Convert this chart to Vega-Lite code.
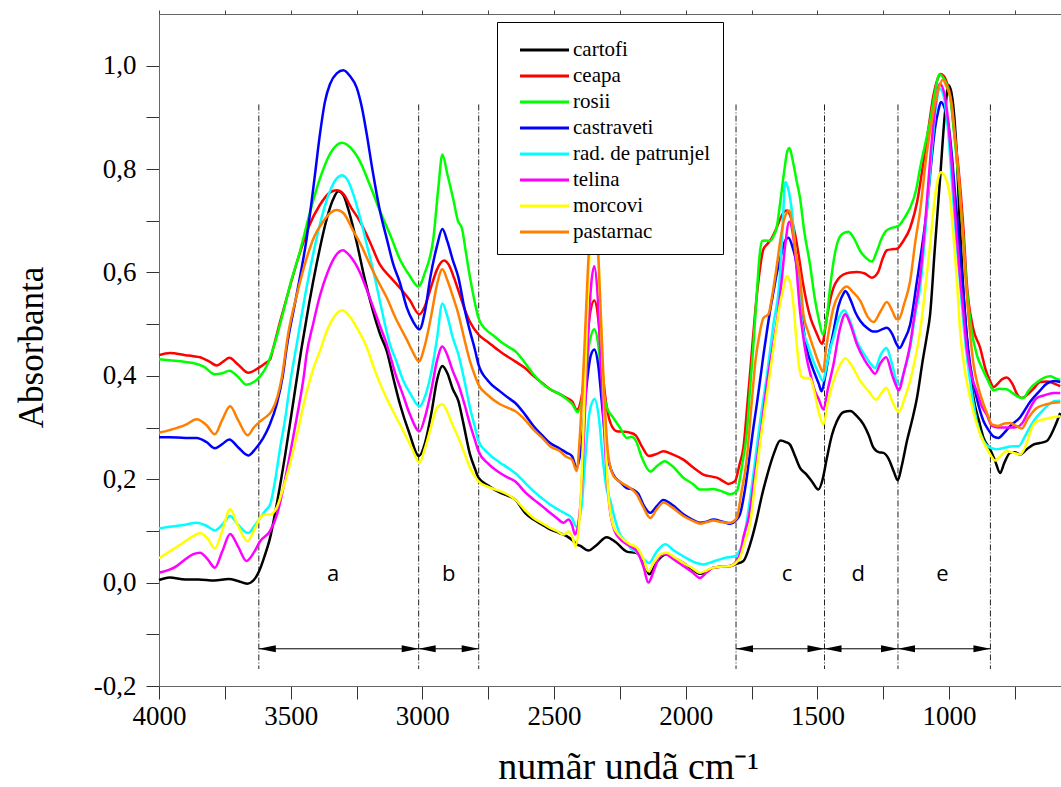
{
"$schema":"https://vega.github.io/schema/vega-lite/v6.json",
"width":902,"height":672,
"autosize":{"type":"none"},
"padding":{"left":159,"top":14,"right":0,"bottom":101},
"background":"white",
"config":{"view":{"stroke":"#666","strokeWidth":1},"font":"Liberation Serif",
"axis":{"grid":false,"labelFont":"Liberation Serif","titleFont":"Liberation Serif","labelColor":"#000","titleColor":"#000","titleFontWeight":"normal","domainColor":"#666","tickColor":"#333"}},
"datasets":{
"dividers":[{"wn":3621},{"wn":3014},{"wn":2786},{"wn":1809},{"wn":1473},{"wn":1194},{"wn":843}],
"arrows":[{"from":3621,"to":3014},{"from":3014,"to":2786},{"from":1809,"to":1473},{"from":1473,"to":1194},{"from":1194,"to":843}],
"letters":[{"lab":"a","wn":3339},{"lab":"b","wn":2900},{"lab":"c","wn":1615},{"lab":"d","wn":1345},{"lab":"e","wn":1025}],
"spectra":[
{"s":"cartofi","w":4000,"a":0.005},{"s":"cartofi","w":3960,"a":0.010},{"s":"cartofi","w":3900,"a":0.006},{"s":"cartofi","w":3850,"a":0.006},{"s":"cartofi","w":3790,"a":0.004},{"s":"cartofi","w":3735,"a":0.007},{"s":"cartofi","w":3700,"a":0.003},{"s":"cartofi","w":3665,"a":-0.002},{"s":"cartofi","w":3640,"a":0.005},{"s":"cartofi","w":3620,"a":0.022},{"s":"cartofi","w":3600,"a":0.050},{"s":"cartofi","w":3578,"a":0.087},{"s":"cartofi","w":3550,"a":0.160},{"s":"cartofi","w":3520,"a":0.250},{"s":"cartofi","w":3490,"a":0.350},{"s":"cartofi","w":3460,"a":0.450},{"s":"cartofi","w":3430,"a":0.540},{"s":"cartofi","w":3400,"a":0.620},{"s":"cartofi","w":3370,"a":0.690},{"s":"cartofi","w":3340,"a":0.740},{"s":"cartofi","w":3319,"a":0.757},{"s":"cartofi","w":3300,"a":0.750},{"s":"cartofi","w":3280,"a":0.720},{"s":"cartofi","w":3250,"a":0.660},{"s":"cartofi","w":3220,"a":0.590},{"s":"cartofi","w":3190,"a":0.530},{"s":"cartofi","w":3160,"a":0.480},{"s":"cartofi","w":3135,"a":0.448},{"s":"cartofi","w":3110,"a":0.395},{"s":"cartofi","w":3085,"a":0.345},{"s":"cartofi","w":3050,"a":0.290},{"s":"cartofi","w":3013,"a":0.245},{"s":"cartofi","w":2990,"a":0.270},{"s":"cartofi","w":2965,"a":0.330},{"s":"cartofi","w":2945,"a":0.390},{"s":"cartofi","w":2924,"a":0.419},{"s":"cartofi","w":2905,"a":0.405},{"s":"cartofi","w":2885,"a":0.375},{"s":"cartofi","w":2863,"a":0.351},{"s":"cartofi","w":2845,"a":0.310},{"s":"cartofi","w":2819,"a":0.248},{"s":"cartofi","w":2800,"a":0.220},{"s":"cartofi","w":2787,"a":0.203},{"s":"cartofi","w":2750,"a":0.188},{"s":"cartofi","w":2705,"a":0.174},{"s":"cartofi","w":2675,"a":0.168},{"s":"cartofi","w":2648,"a":0.161},{"s":"cartofi","w":2610,"a":0.135},{"s":"cartofi","w":2578,"a":0.122},{"s":"cartofi","w":2545,"a":0.112},{"s":"cartofi","w":2515,"a":0.103},{"s":"cartofi","w":2480,"a":0.096},{"s":"cartofi","w":2452,"a":0.090},{"s":"cartofi","w":2430,"a":0.082},{"s":"cartofi","w":2414,"a":0.074},{"s":"cartofi","w":2400,"a":0.071},{"s":"cartofi","w":2370,"a":0.062},{"s":"cartofi","w":2340,"a":0.072},{"s":"cartofi","w":2300,"a":0.088},{"s":"cartofi","w":2265,"a":0.078},{"s":"cartofi","w":2224,"a":0.060},{"s":"cartofi","w":2186,"a":0.057},{"s":"cartofi","w":2160,"a":0.040},{"s":"cartofi","w":2138,"a":0.016},{"s":"cartofi","w":2110,"a":0.040},{"s":"cartofi","w":2073,"a":0.055},{"s":"cartofi","w":2040,"a":0.047},{"s":"cartofi","w":2009,"a":0.038},{"s":"cartofi","w":1975,"a":0.026},{"s":"cartofi","w":1946,"a":0.017},{"s":"cartofi","w":1920,"a":0.022},{"s":"cartofi","w":1895,"a":0.029},{"s":"cartofi","w":1860,"a":0.031},{"s":"cartofi","w":1831,"a":0.032},{"s":"cartofi","w":1810,"a":0.036},{"s":"cartofi","w":1781,"a":0.042},{"s":"cartofi","w":1755,"a":0.075},{"s":"cartofi","w":1732,"a":0.119},{"s":"cartofi","w":1710,"a":0.170},{"s":"cartofi","w":1690,"a":0.209},{"s":"cartofi","w":1665,"a":0.250},{"s":"cartofi","w":1641,"a":0.275},{"s":"cartofi","w":1620,"a":0.272},{"s":"cartofi","w":1604,"a":0.267},{"s":"cartofi","w":1585,"a":0.245},{"s":"cartofi","w":1566,"a":0.222},{"s":"cartofi","w":1541,"a":0.209},{"s":"cartofi","w":1520,"a":0.195},{"s":"cartofi","w":1496,"a":0.180},{"s":"cartofi","w":1480,"a":0.200},{"s":"cartofi","w":1464,"a":0.241},{"s":"cartofi","w":1445,"a":0.285},{"s":"cartofi","w":1426,"a":0.312},{"s":"cartofi","w":1400,"a":0.330},{"s":"cartofi","w":1375,"a":0.332},{"s":"cartofi","w":1350,"a":0.322},{"s":"cartofi","w":1325,"a":0.306},{"s":"cartofi","w":1305,"a":0.285},{"s":"cartofi","w":1287,"a":0.261},{"s":"cartofi","w":1265,"a":0.252},{"s":"cartofi","w":1249,"a":0.251},{"s":"cartofi","w":1230,"a":0.240},{"s":"cartofi","w":1210,"a":0.215},{"s":"cartofi","w":1195,"a":0.198},{"s":"cartofi","w":1180,"a":0.225},{"s":"cartofi","w":1160,"a":0.274},{"s":"cartofi","w":1140,"a":0.315},{"s":"cartofi","w":1122,"a":0.357},{"s":"cartofi","w":1100,"a":0.430},{"s":"cartofi","w":1085,"a":0.475},{"s":"cartofi","w":1072,"a":0.519},{"s":"cartofi","w":1055,"a":0.640},{"s":"cartofi","w":1034,"a":0.783},{"s":"cartofi","w":1015,"a":0.912},{"s":"cartofi","w":1002,"a":0.962},{"s":"cartofi","w":990,"a":0.945},{"s":"cartofi","w":980,"a":0.900},{"s":"cartofi","w":970,"a":0.820},{"s":"cartofi","w":960,"a":0.700},{"s":"cartofi","w":945,"a":0.557},{"s":"cartofi","w":925,"a":0.430},{"s":"cartofi","w":907,"a":0.357},{"s":"cartofi","w":885,"a":0.310},{"s":"cartofi","w":869,"a":0.280},{"s":"cartofi","w":844,"a":0.258},{"s":"cartofi","w":825,"a":0.235},{"s":"cartofi","w":806,"a":0.212},{"s":"cartofi","w":790,"a":0.232},{"s":"cartofi","w":768,"a":0.251},{"s":"cartofi","w":750,"a":0.252},{"s":"cartofi","w":730,"a":0.248},{"s":"cartofi","w":705,"a":0.258},{"s":"cartofi","w":680,"a":0.267},{"s":"cartofi","w":655,"a":0.270},{"s":"cartofi","w":629,"a":0.274},{"s":"cartofi","w":600,"a":0.300},{"s":"cartofi","w":578,"a":0.328},
{"s":"ceapa","w":4000,"a":0.440},{"s":"ceapa","w":3958,"a":0.444},{"s":"ceapa","w":3900,"a":0.440},{"s":"ceapa","w":3870,"a":0.438},{"s":"ceapa","w":3844,"a":0.436},{"s":"ceapa","w":3810,"a":0.428},{"s":"ceapa","w":3781,"a":0.420},{"s":"ceapa","w":3755,"a":0.428},{"s":"ceapa","w":3733,"a":0.435},{"s":"ceapa","w":3700,"a":0.422},{"s":"ceapa","w":3661,"a":0.406},{"s":"ceapa","w":3623,"a":0.415},{"s":"ceapa","w":3595,"a":0.425},{"s":"ceapa","w":3578,"a":0.432},{"s":"ceapa","w":3566,"a":0.454},{"s":"ceapa","w":3540,"a":0.505},{"s":"ceapa","w":3515,"a":0.551},{"s":"ceapa","w":3470,"a":0.630},{"s":"ceapa","w":3430,"a":0.690},{"s":"ceapa","w":3390,"a":0.730},{"s":"ceapa","w":3350,"a":0.755},{"s":"ceapa","w":3325,"a":0.759},{"s":"ceapa","w":3300,"a":0.752},{"s":"ceapa","w":3270,"a":0.725},{"s":"ceapa","w":3237,"a":0.699},{"s":"ceapa","w":3200,"a":0.660},{"s":"ceapa","w":3161,"a":0.615},{"s":"ceapa","w":3120,"a":0.590},{"s":"ceapa","w":3085,"a":0.570},{"s":"ceapa","w":3050,"a":0.548},{"s":"ceapa","w":3011,"a":0.519},{"s":"ceapa","w":2990,"a":0.535},{"s":"ceapa","w":2965,"a":0.575},{"s":"ceapa","w":2945,"a":0.605},{"s":"ceapa","w":2918,"a":0.623},{"s":"ceapa","w":2900,"a":0.615},{"s":"ceapa","w":2880,"a":0.590},{"s":"ceapa","w":2860,"a":0.560},{"s":"ceapa","w":2840,"a":0.530},{"s":"ceapa","w":2820,"a":0.505},{"s":"ceapa","w":2787,"a":0.480},{"s":"ceapa","w":2750,"a":0.465},{"s":"ceapa","w":2705,"a":0.447},{"s":"ceapa","w":2648,"a":0.428},{"s":"ceapa","w":2610,"a":0.415},{"s":"ceapa","w":2578,"a":0.400},{"s":"ceapa","w":2545,"a":0.386},{"s":"ceapa","w":2515,"a":0.374},{"s":"ceapa","w":2480,"a":0.365},{"s":"ceapa","w":2452,"a":0.357},{"s":"ceapa","w":2430,"a":0.350},{"s":"ceapa","w":2414,"a":0.334},{"s":"ceapa","w":2395,"a":0.360},{"s":"ceapa","w":2380,"a":0.430},{"s":"ceapa","w":2365,"a":0.515},{"s":"ceapa","w":2347,"a":0.546},{"s":"ceapa","w":2332,"a":0.510},{"s":"ceapa","w":2318,"a":0.420},{"s":"ceapa","w":2300,"a":0.340},{"s":"ceapa","w":2280,"a":0.302},{"s":"ceapa","w":2262,"a":0.293},{"s":"ceapa","w":2235,"a":0.292},{"s":"ceapa","w":2211,"a":0.290},{"s":"ceapa","w":2190,"a":0.285},{"s":"ceapa","w":2165,"a":0.262},{"s":"ceapa","w":2140,"a":0.245},{"s":"ceapa","w":2110,"a":0.249},{"s":"ceapa","w":2085,"a":0.254},{"s":"ceapa","w":2050,"a":0.248},{"s":"ceapa","w":2009,"a":0.238},{"s":"ceapa","w":1970,"a":0.222},{"s":"ceapa","w":1933,"a":0.209},{"s":"ceapa","w":1900,"a":0.205},{"s":"ceapa","w":1882,"a":0.203},{"s":"ceapa","w":1860,"a":0.197},{"s":"ceapa","w":1838,"a":0.191},{"s":"ceapa","w":1813,"a":0.196},{"s":"ceapa","w":1795,"a":0.230},{"s":"ceapa","w":1781,"a":0.261},{"s":"ceapa","w":1765,"a":0.350},{"s":"ceapa","w":1750,"a":0.440},{"s":"ceapa","w":1735,"a":0.530},{"s":"ceapa","w":1720,"a":0.600},{"s":"ceapa","w":1705,"a":0.645},{"s":"ceapa","w":1690,"a":0.655},{"s":"ceapa","w":1675,"a":0.665},{"s":"ceapa","w":1660,"a":0.680},{"s":"ceapa","w":1640,"a":0.705},{"s":"ceapa","w":1625,"a":0.718},{"s":"ceapa","w":1614,"a":0.720},{"s":"ceapa","w":1600,"a":0.705},{"s":"ceapa","w":1585,"a":0.675},{"s":"ceapa","w":1570,"a":0.630},{"s":"ceapa","w":1555,"a":0.580},{"s":"ceapa","w":1540,"a":0.540},{"s":"ceapa","w":1525,"a":0.510},{"s":"ceapa","w":1505,"a":0.485},{"s":"ceapa","w":1482,"a":0.462},{"s":"ceapa","w":1465,"a":0.510},{"s":"ceapa","w":1450,"a":0.550},{"s":"ceapa","w":1439,"a":0.570},{"s":"ceapa","w":1420,"a":0.588},{"s":"ceapa","w":1401,"a":0.596},{"s":"ceapa","w":1375,"a":0.600},{"s":"ceapa","w":1350,"a":0.601},{"s":"ceapa","w":1320,"a":0.598},{"s":"ceapa","w":1293,"a":0.590},{"s":"ceapa","w":1270,"a":0.600},{"s":"ceapa","w":1250,"a":0.630},{"s":"ceapa","w":1236,"a":0.643},{"s":"ceapa","w":1215,"a":0.645},{"s":"ceapa","w":1198,"a":0.646},{"s":"ceapa","w":1175,"a":0.660},{"s":"ceapa","w":1148,"a":0.686},{"s":"ceapa","w":1120,"a":0.740},{"s":"ceapa","w":1097,"a":0.815},{"s":"ceapa","w":1075,"a":0.890},{"s":"ceapa","w":1059,"a":0.944},{"s":"ceapa","w":1045,"a":0.972},{"s":"ceapa","w":1034,"a":0.984},{"s":"ceapa","w":1020,"a":0.980},{"s":"ceapa","w":1005,"a":0.962},{"s":"ceapa","w":996,"a":0.945},{"s":"ceapa","w":980,"a":0.870},{"s":"ceapa","w":964,"a":0.800},{"s":"ceapa","w":945,"a":0.680},{"s":"ceapa","w":933,"a":0.580},{"s":"ceapa","w":910,"a":0.495},{"s":"ceapa","w":882,"a":0.454},{"s":"ceapa","w":860,"a":0.410},{"s":"ceapa","w":844,"a":0.390},{"s":"ceapa","w":832,"a":0.378},{"s":"ceapa","w":815,"a":0.385},{"s":"ceapa","w":800,"a":0.393},{"s":"ceapa","w":781,"a":0.397},{"s":"ceapa","w":760,"a":0.385},{"s":"ceapa","w":740,"a":0.363},{"s":"ceapa","w":724,"a":0.357},{"s":"ceapa","w":700,"a":0.365},{"s":"ceapa","w":680,"a":0.375},{"s":"ceapa","w":654,"a":0.388},{"s":"ceapa","w":630,"a":0.389},{"s":"ceapa","w":605,"a":0.386},{"s":"ceapa","w":578,"a":0.380},
{"s":"rosii","w":4000,"a":0.432},{"s":"rosii","w":3960,"a":0.430},{"s":"rosii","w":3900,"a":0.427},{"s":"rosii","w":3870,"a":0.425},{"s":"rosii","w":3830,"a":0.418},{"s":"rosii","w":3788,"a":0.403},{"s":"rosii","w":3760,"a":0.405},{"s":"rosii","w":3733,"a":0.410},{"s":"rosii","w":3700,"a":0.398},{"s":"rosii","w":3668,"a":0.383},{"s":"rosii","w":3640,"a":0.388},{"s":"rosii","w":3616,"a":0.399},{"s":"rosii","w":3590,"a":0.420},{"s":"rosii","w":3565,"a":0.455},{"s":"rosii","w":3530,"a":0.520},{"s":"rosii","w":3500,"a":0.580},{"s":"rosii","w":3465,"a":0.640},{"s":"rosii","w":3430,"a":0.710},{"s":"rosii","w":3390,"a":0.780},{"s":"rosii","w":3350,"a":0.830},{"s":"rosii","w":3306,"a":0.851},{"s":"rosii","w":3270,"a":0.840},{"s":"rosii","w":3237,"a":0.815},{"s":"rosii","w":3200,"a":0.770},{"s":"rosii","w":3161,"a":0.719},{"s":"rosii","w":3120,"a":0.670},{"s":"rosii","w":3085,"a":0.625},{"s":"rosii","w":3050,"a":0.595},{"s":"rosii","w":3015,"a":0.573},{"s":"rosii","w":2990,"a":0.600},{"s":"rosii","w":2958,"a":0.667},{"s":"rosii","w":2940,"a":0.760},{"s":"rosii","w":2924,"a":0.828},{"s":"rosii","w":2905,"a":0.790},{"s":"rosii","w":2882,"a":0.740},{"s":"rosii","w":2865,"a":0.700},{"s":"rosii","w":2850,"a":0.686},{"s":"rosii","w":2835,"a":0.640},{"s":"rosii","w":2819,"a":0.590},{"s":"rosii","w":2800,"a":0.540},{"s":"rosii","w":2787,"a":0.512},{"s":"rosii","w":2760,"a":0.490},{"s":"rosii","w":2730,"a":0.478},{"s":"rosii","w":2705,"a":0.467},{"s":"rosii","w":2670,"a":0.455},{"s":"rosii","w":2648,"a":0.448},{"s":"rosii","w":2610,"a":0.425},{"s":"rosii","w":2578,"a":0.403},{"s":"rosii","w":2545,"a":0.385},{"s":"rosii","w":2515,"a":0.374},{"s":"rosii","w":2480,"a":0.365},{"s":"rosii","w":2452,"a":0.355},{"s":"rosii","w":2430,"a":0.345},{"s":"rosii","w":2411,"a":0.330},{"s":"rosii","w":2395,"a":0.350},{"s":"rosii","w":2380,"a":0.400},{"s":"rosii","w":2365,"a":0.465},{"s":"rosii","w":2347,"a":0.490},{"s":"rosii","w":2332,"a":0.460},{"s":"rosii","w":2318,"a":0.390},{"s":"rosii","w":2300,"a":0.340},{"s":"rosii","w":2275,"a":0.319},{"s":"rosii","w":2250,"a":0.300},{"s":"rosii","w":2224,"a":0.280},{"s":"rosii","w":2205,"a":0.282},{"s":"rosii","w":2190,"a":0.275},{"s":"rosii","w":2165,"a":0.240},{"s":"rosii","w":2135,"a":0.215},{"s":"rosii","w":2110,"a":0.225},{"s":"rosii","w":2080,"a":0.235},{"s":"rosii","w":2050,"a":0.225},{"s":"rosii","w":2009,"a":0.203},{"s":"rosii","w":1970,"a":0.190},{"s":"rosii","w":1946,"a":0.180},{"s":"rosii","w":1920,"a":0.180},{"s":"rosii","w":1895,"a":0.181},{"s":"rosii","w":1860,"a":0.176},{"s":"rosii","w":1831,"a":0.171},{"s":"rosii","w":1806,"a":0.177},{"s":"rosii","w":1785,"a":0.230},{"s":"rosii","w":1768,"a":0.290},{"s":"rosii","w":1755,"a":0.380},{"s":"rosii","w":1743,"a":0.460},{"s":"rosii","w":1730,"a":0.560},{"s":"rosii","w":1720,"a":0.630},{"s":"rosii","w":1711,"a":0.661},{"s":"rosii","w":1695,"a":0.662},{"s":"rosii","w":1680,"a":0.661},{"s":"rosii","w":1665,"a":0.672},{"s":"rosii","w":1655,"a":0.686},{"s":"rosii","w":1640,"a":0.740},{"s":"rosii","w":1625,"a":0.800},{"s":"rosii","w":1614,"a":0.835},{"s":"rosii","w":1606,"a":0.841},{"s":"rosii","w":1595,"a":0.820},{"s":"rosii","w":1580,"a":0.780},{"s":"rosii","w":1566,"a":0.744},{"s":"rosii","w":1550,"a":0.680},{"s":"rosii","w":1528,"a":0.615},{"s":"rosii","w":1510,"a":0.550},{"s":"rosii","w":1495,"a":0.510},{"s":"rosii","w":1479,"a":0.480},{"s":"rosii","w":1465,"a":0.510},{"s":"rosii","w":1452,"a":0.570},{"s":"rosii","w":1439,"a":0.620},{"s":"rosii","w":1426,"a":0.654},{"s":"rosii","w":1405,"a":0.675},{"s":"rosii","w":1382,"a":0.679},{"s":"rosii","w":1360,"a":0.665},{"s":"rosii","w":1337,"a":0.641},{"s":"rosii","w":1315,"a":0.628},{"s":"rosii","w":1293,"a":0.621},{"s":"rosii","w":1275,"a":0.640},{"s":"rosii","w":1255,"a":0.667},{"s":"rosii","w":1240,"a":0.680},{"s":"rosii","w":1224,"a":0.685},{"s":"rosii","w":1205,"a":0.688},{"s":"rosii","w":1192,"a":0.690},{"s":"rosii","w":1170,"a":0.705},{"s":"rosii","w":1148,"a":0.725},{"s":"rosii","w":1125,"a":0.760},{"s":"rosii","w":1110,"a":0.802},{"s":"rosii","w":1090,"a":0.850},{"s":"rosii","w":1072,"a":0.893},{"s":"rosii","w":1055,"a":0.945},{"s":"rosii","w":1036,"a":0.983},{"s":"rosii","w":1020,"a":0.975},{"s":"rosii","w":1005,"a":0.958},{"s":"rosii","w":996,"a":0.940},{"s":"rosii","w":980,"a":0.865},{"s":"rosii","w":964,"a":0.780},{"s":"rosii","w":945,"a":0.660},{"s":"rosii","w":933,"a":0.570},{"s":"rosii","w":915,"a":0.490},{"s":"rosii","w":895,"a":0.441},{"s":"rosii","w":875,"a":0.415},{"s":"rosii","w":857,"a":0.396},{"s":"rosii","w":840,"a":0.378},{"s":"rosii","w":832,"a":0.372},{"s":"rosii","w":810,"a":0.375},{"s":"rosii","w":782,"a":0.374},{"s":"rosii","w":760,"a":0.367},{"s":"rosii","w":740,"a":0.360},{"s":"rosii","w":718,"a":0.357},{"s":"rosii","w":700,"a":0.370},{"s":"rosii","w":680,"a":0.382},{"s":"rosii","w":667,"a":0.387},{"s":"rosii","w":640,"a":0.396},{"s":"rosii","w":616,"a":0.399},{"s":"rosii","w":595,"a":0.395},{"s":"rosii","w":578,"a":0.392},
{"s":"castraveti","w":4000,"a":0.281},{"s":"castraveti","w":3960,"a":0.281},{"s":"castraveti","w":3900,"a":0.280},{"s":"castraveti","w":3857,"a":0.280},{"s":"castraveti","w":3820,"a":0.272},{"s":"castraveti","w":3788,"a":0.260},{"s":"castraveti","w":3760,"a":0.268},{"s":"castraveti","w":3733,"a":0.277},{"s":"castraveti","w":3700,"a":0.262},{"s":"castraveti","w":3661,"a":0.246},{"s":"castraveti","w":3635,"a":0.258},{"s":"castraveti","w":3604,"a":0.280},{"s":"castraveti","w":3580,"a":0.305},{"s":"castraveti","w":3553,"a":0.345},{"s":"castraveti","w":3530,"a":0.400},{"s":"castraveti","w":3515,"a":0.455},{"s":"castraveti","w":3480,"a":0.550},{"s":"castraveti","w":3439,"a":0.667},{"s":"castraveti","w":3410,"a":0.780},{"s":"castraveti","w":3389,"a":0.867},{"s":"castraveti","w":3370,"a":0.930},{"s":"castraveti","w":3351,"a":0.964},{"s":"castraveti","w":3325,"a":0.985},{"s":"castraveti","w":3300,"a":0.991},{"s":"castraveti","w":3275,"a":0.980},{"s":"castraveti","w":3249,"a":0.957},{"s":"castraveti","w":3230,"a":0.920},{"s":"castraveti","w":3211,"a":0.867},{"s":"castraveti","w":3190,"a":0.800},{"s":"castraveti","w":3161,"a":0.719},{"s":"castraveti","w":3135,"a":0.665},{"s":"castraveti","w":3110,"a":0.615},{"s":"castraveti","w":3085,"a":0.580},{"s":"castraveti","w":3059,"a":0.532},{"s":"castraveti","w":3035,"a":0.505},{"s":"castraveti","w":3011,"a":0.490},{"s":"castraveti","w":2990,"a":0.525},{"s":"castraveti","w":2970,"a":0.590},{"s":"castraveti","w":2945,"a":0.650},{"s":"castraveti","w":2924,"a":0.684},{"s":"castraveti","w":2905,"a":0.660},{"s":"castraveti","w":2885,"a":0.625},{"s":"castraveti","w":2863,"a":0.590},{"s":"castraveti","w":2840,"a":0.530},{"s":"castraveti","w":2819,"a":0.486},{"s":"castraveti","w":2800,"a":0.450},{"s":"castraveti","w":2787,"a":0.422},{"s":"castraveti","w":2750,"a":0.390},{"s":"castraveti","w":2705,"a":0.370},{"s":"castraveti","w":2670,"a":0.356},{"s":"castraveti","w":2648,"a":0.348},{"s":"castraveti","w":2610,"a":0.325},{"s":"castraveti","w":2578,"a":0.303},{"s":"castraveti","w":2545,"a":0.285},{"s":"castraveti","w":2515,"a":0.270},{"s":"castraveti","w":2480,"a":0.260},{"s":"castraveti","w":2452,"a":0.251},{"s":"castraveti","w":2432,"a":0.245},{"s":"castraveti","w":2414,"a":0.222},{"s":"castraveti","w":2395,"a":0.270},{"s":"castraveti","w":2376,"a":0.383},{"s":"castraveti","w":2360,"a":0.440},{"s":"castraveti","w":2347,"a":0.451},{"s":"castraveti","w":2332,"a":0.420},{"s":"castraveti","w":2319,"a":0.351},{"s":"castraveti","w":2300,"a":0.254},{"s":"castraveti","w":2275,"a":0.209},{"s":"castraveti","w":2250,"a":0.195},{"s":"castraveti","w":2224,"a":0.183},{"s":"castraveti","w":2200,"a":0.180},{"s":"castraveti","w":2180,"a":0.172},{"s":"castraveti","w":2160,"a":0.150},{"s":"castraveti","w":2135,"a":0.135},{"s":"castraveti","w":2110,"a":0.148},{"s":"castraveti","w":2085,"a":0.160},{"s":"castraveti","w":2050,"a":0.150},{"s":"castraveti","w":2009,"a":0.132},{"s":"castraveti","w":1975,"a":0.122},{"s":"castraveti","w":1946,"a":0.116},{"s":"castraveti","w":1920,"a":0.118},{"s":"castraveti","w":1895,"a":0.122},{"s":"castraveti","w":1860,"a":0.118},{"s":"castraveti","w":1831,"a":0.114},{"s":"castraveti","w":1810,"a":0.120},{"s":"castraveti","w":1794,"a":0.132},{"s":"castraveti","w":1775,"a":0.180},{"s":"castraveti","w":1756,"a":0.250},{"s":"castraveti","w":1743,"a":0.300},{"s":"castraveti","w":1730,"a":0.345},{"s":"castraveti","w":1718,"a":0.390},{"s":"castraveti","w":1705,"a":0.440},{"s":"castraveti","w":1692,"a":0.485},{"s":"castraveti","w":1680,"a":0.525},{"s":"castraveti","w":1667,"a":0.562},{"s":"castraveti","w":1655,"a":0.596},{"s":"castraveti","w":1640,"a":0.630},{"s":"castraveti","w":1625,"a":0.658},{"s":"castraveti","w":1610,"a":0.667},{"s":"castraveti","w":1595,"a":0.650},{"s":"castraveti","w":1579,"a":0.615},{"s":"castraveti","w":1566,"a":0.555},{"s":"castraveti","w":1555,"a":0.500},{"s":"castraveti","w":1541,"a":0.454},{"s":"castraveti","w":1525,"a":0.425},{"s":"castraveti","w":1509,"a":0.403},{"s":"castraveti","w":1495,"a":0.385},{"s":"castraveti","w":1484,"a":0.370},{"s":"castraveti","w":1470,"a":0.400},{"s":"castraveti","w":1455,"a":0.445},{"s":"castraveti","w":1439,"a":0.486},{"s":"castraveti","w":1420,"a":0.535},{"s":"castraveti","w":1400,"a":0.560},{"s":"castraveti","w":1394,"a":0.564},{"s":"castraveti","w":1375,"a":0.548},{"s":"castraveti","w":1355,"a":0.522},{"s":"castraveti","w":1337,"a":0.506},{"s":"castraveti","w":1310,"a":0.492},{"s":"castraveti","w":1290,"a":0.486},{"s":"castraveti","w":1274,"a":0.486},{"s":"castraveti","w":1255,"a":0.490},{"s":"castraveti","w":1236,"a":0.493},{"s":"castraveti","w":1215,"a":0.480},{"s":"castraveti","w":1200,"a":0.462},{"s":"castraveti","w":1188,"a":0.454},{"s":"castraveti","w":1170,"a":0.470},{"s":"castraveti","w":1148,"a":0.499},{"s":"castraveti","w":1122,"a":0.583},{"s":"castraveti","w":1100,"a":0.660},{"s":"castraveti","w":1085,"a":0.719},{"s":"castraveti","w":1070,"a":0.800},{"s":"castraveti","w":1053,"a":0.880},{"s":"castraveti","w":1040,"a":0.915},{"s":"castraveti","w":1031,"a":0.930},{"s":"castraveti","w":1015,"a":0.915},{"s":"castraveti","w":1002,"a":0.886},{"s":"castraveti","w":990,"a":0.830},{"s":"castraveti","w":977,"a":0.751},{"s":"castraveti","w":960,"a":0.650},{"s":"castraveti","w":945,"a":0.557},{"s":"castraveti","w":933,"a":0.480},{"s":"castraveti","w":920,"a":0.422},{"s":"castraveti","w":895,"a":0.357},{"s":"castraveti","w":869,"a":0.312},{"s":"castraveti","w":850,"a":0.295},{"s":"castraveti","w":832,"a":0.283},{"s":"castraveti","w":813,"a":0.280},{"s":"castraveti","w":790,"a":0.290},{"s":"castraveti","w":768,"a":0.303},{"s":"castraveti","w":730,"a":0.320},{"s":"castraveti","w":692,"a":0.350},{"s":"castraveti","w":654,"a":0.372},{"s":"castraveti","w":629,"a":0.385},{"s":"castraveti","w":600,"a":0.390},{"s":"castraveti","w":578,"a":0.388},
{"s":"rad. de patrunjel","w":4000,"a":0.105},{"s":"rad. de patrunjel","w":3960,"a":0.108},{"s":"rad. de patrunjel","w":3900,"a":0.112},{"s":"rad. de patrunjel","w":3857,"a":0.116},{"s":"rad. de patrunjel","w":3820,"a":0.110},{"s":"rad. de patrunjel","w":3788,"a":0.101},{"s":"rad. de patrunjel","w":3760,"a":0.112},{"s":"rad. de patrunjel","w":3730,"a":0.129},{"s":"rad. de patrunjel","w":3700,"a":0.112},{"s":"rad. de patrunjel","w":3661,"a":0.096},{"s":"rad. de patrunjel","w":3640,"a":0.108},{"s":"rad. de patrunjel","w":3616,"a":0.125},{"s":"rad. de patrunjel","w":3595,"a":0.140},{"s":"rad. de patrunjel","w":3578,"a":0.151},{"s":"rad. de patrunjel","w":3560,"a":0.195},{"s":"rad. de patrunjel","w":3540,"a":0.261},{"s":"rad. de patrunjel","w":3520,"a":0.320},{"s":"rad. de patrunjel","w":3503,"a":0.383},{"s":"rad. de patrunjel","w":3477,"a":0.461},{"s":"rad. de patrunjel","w":3440,"a":0.570},{"s":"rad. de patrunjel","w":3401,"a":0.667},{"s":"rad. de patrunjel","w":3375,"a":0.720},{"s":"rad. de patrunjel","w":3351,"a":0.757},{"s":"rad. de patrunjel","w":3325,"a":0.782},{"s":"rad. de patrunjel","w":3306,"a":0.788},{"s":"rad. de patrunjel","w":3285,"a":0.780},{"s":"rad. de patrunjel","w":3262,"a":0.751},{"s":"rad. de patrunjel","w":3236,"a":0.705},{"s":"rad. de patrunjel","w":3211,"a":0.654},{"s":"rad. de patrunjel","w":3185,"a":0.600},{"s":"rad. de patrunjel","w":3161,"a":0.544},{"s":"rad. de patrunjel","w":3140,"a":0.495},{"s":"rad. de patrunjel","w":3123,"a":0.461},{"s":"rad. de patrunjel","w":3100,"a":0.430},{"s":"rad. de patrunjel","w":3072,"a":0.390},{"s":"rad. de patrunjel","w":3045,"a":0.365},{"s":"rad. de patrunjel","w":3011,"a":0.341},{"s":"rad. de patrunjel","w":2990,"a":0.360},{"s":"rad. de patrunjel","w":2965,"a":0.410},{"s":"rad. de patrunjel","w":2945,"a":0.470},{"s":"rad. de patrunjel","w":2924,"a":0.540},{"s":"rad. de patrunjel","w":2905,"a":0.515},{"s":"rad. de patrunjel","w":2885,"a":0.475},{"s":"rad. de patrunjel","w":2863,"a":0.441},{"s":"rad. de patrunjel","w":2840,"a":0.390},{"s":"rad. de patrunjel","w":2819,"a":0.338},{"s":"rad. de patrunjel","w":2800,"a":0.300},{"s":"rad. de patrunjel","w":2787,"a":0.274},{"s":"rad. de patrunjel","w":2750,"a":0.250},{"s":"rad. de patrunjel","w":2705,"a":0.232},{"s":"rad. de patrunjel","w":2675,"a":0.222},{"s":"rad. de patrunjel","w":2648,"a":0.212},{"s":"rad. de patrunjel","w":2610,"a":0.193},{"s":"rad. de patrunjel","w":2578,"a":0.177},{"s":"rad. de patrunjel","w":2545,"a":0.163},{"s":"rad. de patrunjel","w":2515,"a":0.151},{"s":"rad. de patrunjel","w":2480,"a":0.140},{"s":"rad. de patrunjel","w":2452,"a":0.132},{"s":"rad. de patrunjel","w":2432,"a":0.125},{"s":"rad. de patrunjel","w":2415,"a":0.108},{"s":"rad. de patrunjel","w":2395,"a":0.150},{"s":"rad. de patrunjel","w":2380,"a":0.250},{"s":"rad. de patrunjel","w":2365,"a":0.330},{"s":"rad. de patrunjel","w":2346,"a":0.355},{"s":"rad. de patrunjel","w":2330,"a":0.320},{"s":"rad. de patrunjel","w":2315,"a":0.240},{"s":"rad. de patrunjel","w":2300,"a":0.180},{"s":"rad. de patrunjel","w":2287,"a":0.160},{"s":"rad. de patrunjel","w":2270,"a":0.125},{"s":"rad. de patrunjel","w":2249,"a":0.093},{"s":"rad. de patrunjel","w":2225,"a":0.078},{"s":"rad. de patrunjel","w":2211,"a":0.067},{"s":"rad. de patrunjel","w":2190,"a":0.060},{"s":"rad. de patrunjel","w":2165,"a":0.048},{"s":"rad. de patrunjel","w":2140,"a":0.038},{"s":"rad. de patrunjel","w":2110,"a":0.060},{"s":"rad. de patrunjel","w":2078,"a":0.074},{"s":"rad. de patrunjel","w":2045,"a":0.062},{"s":"rad. de patrunjel","w":2009,"a":0.051},{"s":"rad. de patrunjel","w":1970,"a":0.040},{"s":"rad. de patrunjel","w":1933,"a":0.035},{"s":"rad. de patrunjel","w":1900,"a":0.040},{"s":"rad. de patrunjel","w":1870,"a":0.045},{"s":"rad. de patrunjel","w":1840,"a":0.049},{"s":"rad. de patrunjel","w":1813,"a":0.051},{"s":"rad. de patrunjel","w":1795,"a":0.062},{"s":"rad. de patrunjel","w":1781,"a":0.080},{"s":"rad. de patrunjel","w":1768,"a":0.119},{"s":"rad. de patrunjel","w":1743,"a":0.210},{"s":"rad. de patrunjel","w":1718,"a":0.310},{"s":"rad. de patrunjel","w":1692,"a":0.400},{"s":"rad. de patrunjel","w":1667,"a":0.500},{"s":"rad. de patrunjel","w":1644,"a":0.583},{"s":"rad. de patrunjel","w":1632,"a":0.690},{"s":"rad. de patrunjel","w":1622,"a":0.775},{"s":"rad. de patrunjel","w":1610,"a":0.760},{"s":"rad. de patrunjel","w":1597,"a":0.719},{"s":"rad. de patrunjel","w":1585,"a":0.650},{"s":"rad. de patrunjel","w":1572,"a":0.590},{"s":"rad. de patrunjel","w":1560,"a":0.510},{"s":"rad. de patrunjel","w":1553,"a":0.486},{"s":"rad. de patrunjel","w":1540,"a":0.465},{"s":"rad. de patrunjel","w":1515,"a":0.428},{"s":"rad. de patrunjel","w":1495,"a":0.405},{"s":"rad. de patrunjel","w":1479,"a":0.390},{"s":"rad. de patrunjel","w":1465,"a":0.420},{"s":"rad. de patrunjel","w":1450,"a":0.455},{"s":"rad. de patrunjel","w":1439,"a":0.474},{"s":"rad. de patrunjel","w":1420,"a":0.510},{"s":"rad. de patrunjel","w":1398,"a":0.527},{"s":"rad. de patrunjel","w":1375,"a":0.505},{"s":"rad. de patrunjel","w":1350,"a":0.467},{"s":"rad. de patrunjel","w":1320,"a":0.440},{"s":"rad. de patrunjel","w":1300,"a":0.425},{"s":"rad. de patrunjel","w":1281,"a":0.415},{"s":"rad. de patrunjel","w":1260,"a":0.440},{"s":"rad. de patrunjel","w":1239,"a":0.454},{"s":"rad. de patrunjel","w":1215,"a":0.420},{"s":"rad. de patrunjel","w":1200,"a":0.390},{"s":"rad. de patrunjel","w":1190,"a":0.383},{"s":"rad. de patrunjel","w":1170,"a":0.410},{"s":"rad. de patrunjel","w":1148,"a":0.454},{"s":"rad. de patrunjel","w":1128,"a":0.520},{"s":"rad. de patrunjel","w":1110,"a":0.570},{"s":"rad. de patrunjel","w":1090,"a":0.680},{"s":"rad. de patrunjel","w":1070,"a":0.810},{"s":"rad. de patrunjel","w":1050,"a":0.920},{"s":"rad. de patrunjel","w":1035,"a":0.955},{"s":"rad. de patrunjel","w":1020,"a":0.940},{"s":"rad. de patrunjel","w":1005,"a":0.880},{"s":"rad. de patrunjel","w":990,"a":0.780},{"s":"rad. de patrunjel","w":975,"a":0.680},{"s":"rad. de patrunjel","w":960,"a":0.590},{"s":"rad. de patrunjel","w":945,"a":0.500},{"s":"rad. de patrunjel","w":933,"a":0.440},{"s":"rad. de patrunjel","w":920,"a":0.390},{"s":"rad. de patrunjel","w":895,"a":0.312},{"s":"rad. de patrunjel","w":869,"a":0.274},{"s":"rad. de patrunjel","w":844,"a":0.261},{"s":"rad. de patrunjel","w":820,"a":0.258},{"s":"rad. de patrunjel","w":806,"a":0.259},{"s":"rad. de patrunjel","w":780,"a":0.262},{"s":"rad. de patrunjel","w":756,"a":0.264},{"s":"rad. de patrunjel","w":736,"a":0.264},{"s":"rad. de patrunjel","w":710,"a":0.285},{"s":"rad. de patrunjel","w":680,"a":0.312},{"s":"rad. de patrunjel","w":650,"a":0.330},{"s":"rad. de patrunjel","w":620,"a":0.345},{"s":"rad. de patrunjel","w":600,"a":0.351},{"s":"rad. de patrunjel","w":578,"a":0.352},
{"s":"telina","w":4000,"a":0.019},{"s":"telina","w":3960,"a":0.025},{"s":"telina","w":3933,"a":0.032},{"s":"telina","w":3900,"a":0.045},{"s":"telina","w":3870,"a":0.055},{"s":"telina","w":3844,"a":0.058},{"s":"telina","w":3815,"a":0.045},{"s":"telina","w":3788,"a":0.029},{"s":"telina","w":3760,"a":0.060},{"s":"telina","w":3730,"a":0.094},{"s":"telina","w":3700,"a":0.070},{"s":"telina","w":3668,"a":0.042},{"s":"telina","w":3640,"a":0.058},{"s":"telina","w":3616,"a":0.080},{"s":"telina","w":3578,"a":0.100},{"s":"telina","w":3550,"a":0.135},{"s":"telina","w":3528,"a":0.183},{"s":"telina","w":3500,"a":0.255},{"s":"telina","w":3477,"a":0.319},{"s":"telina","w":3450,"a":0.400},{"s":"telina","w":3440,"a":0.440},{"s":"telina","w":3415,"a":0.500},{"s":"telina","w":3389,"a":0.555},{"s":"telina","w":3360,"a":0.600},{"s":"telina","w":3330,"a":0.632},{"s":"telina","w":3302,"a":0.643},{"s":"telina","w":3275,"a":0.632},{"s":"telina","w":3237,"a":0.600},{"s":"telina","w":3210,"a":0.565},{"s":"telina","w":3186,"a":0.532},{"s":"telina","w":3160,"a":0.495},{"s":"telina","w":3135,"a":0.461},{"s":"telina","w":3123,"a":0.440},{"s":"telina","w":3100,"a":0.400},{"s":"telina","w":3075,"a":0.365},{"s":"telina","w":3047,"a":0.325},{"s":"telina","w":3011,"a":0.293},{"s":"telina","w":2990,"a":0.320},{"s":"telina","w":2965,"a":0.375},{"s":"telina","w":2945,"a":0.428},{"s":"telina","w":2924,"a":0.457},{"s":"telina","w":2905,"a":0.440},{"s":"telina","w":2885,"a":0.410},{"s":"telina","w":2863,"a":0.383},{"s":"telina","w":2840,"a":0.345},{"s":"telina","w":2819,"a":0.306},{"s":"telina","w":2800,"a":0.275},{"s":"telina","w":2787,"a":0.254},{"s":"telina","w":2750,"a":0.230},{"s":"telina","w":2705,"a":0.212},{"s":"telina","w":2675,"a":0.203},{"s":"telina","w":2648,"a":0.196},{"s":"telina","w":2610,"a":0.175},{"s":"telina","w":2578,"a":0.161},{"s":"telina","w":2545,"a":0.148},{"s":"telina","w":2515,"a":0.135},{"s":"telina","w":2490,"a":0.125},{"s":"telina","w":2464,"a":0.116},{"s":"telina","w":2445,"a":0.122},{"s":"telina","w":2432,"a":0.112},{"s":"telina","w":2420,"a":0.093},{"s":"telina","w":2400,"a":0.150},{"s":"telina","w":2385,"a":0.300},{"s":"telina","w":2370,"a":0.480},{"s":"telina","w":2360,"a":0.570},{"s":"telina","w":2347,"a":0.612},{"s":"telina","w":2335,"a":0.560},{"s":"telina","w":2322,"a":0.420},{"s":"telina","w":2305,"a":0.250},{"s":"telina","w":2290,"a":0.150},{"s":"telina","w":2270,"a":0.100},{"s":"telina","w":2250,"a":0.085},{"s":"telina","w":2224,"a":0.074},{"s":"telina","w":2186,"a":0.061},{"s":"telina","w":2160,"a":0.030},{"s":"telina","w":2142,"a":0.000},{"s":"telina","w":2120,"a":0.025},{"s":"telina","w":2100,"a":0.050},{"s":"telina","w":2078,"a":0.055},{"s":"telina","w":2045,"a":0.045},{"s":"telina","w":2009,"a":0.032},{"s":"telina","w":1975,"a":0.020},{"s":"telina","w":1946,"a":0.009},{"s":"telina","w":1920,"a":0.020},{"s":"telina","w":1895,"a":0.029},{"s":"telina","w":1860,"a":0.031},{"s":"telina","w":1831,"a":0.032},{"s":"telina","w":1810,"a":0.040},{"s":"telina","w":1794,"a":0.055},{"s":"telina","w":1780,"a":0.090},{"s":"telina","w":1759,"a":0.130},{"s":"telina","w":1740,"a":0.200},{"s":"telina","w":1715,"a":0.290},{"s":"telina","w":1690,"a":0.390},{"s":"telina","w":1665,"a":0.470},{"s":"telina","w":1650,"a":0.520},{"s":"telina","w":1636,"a":0.583},{"s":"telina","w":1622,"a":0.654},{"s":"telina","w":1607,"a":0.698},{"s":"telina","w":1595,"a":0.680},{"s":"telina","w":1585,"a":0.641},{"s":"telina","w":1566,"a":0.525},{"s":"telina","w":1555,"a":0.480},{"s":"telina","w":1541,"a":0.435},{"s":"telina","w":1525,"a":0.400},{"s":"telina","w":1509,"a":0.370},{"s":"telina","w":1495,"a":0.355},{"s":"telina","w":1477,"a":0.335},{"s":"telina","w":1460,"a":0.375},{"s":"telina","w":1439,"a":0.422},{"s":"telina","w":1415,"a":0.490},{"s":"telina","w":1394,"a":0.519},{"s":"telina","w":1375,"a":0.500},{"s":"telina","w":1350,"a":0.461},{"s":"telina","w":1320,"a":0.430},{"s":"telina","w":1300,"a":0.415},{"s":"telina","w":1281,"a":0.404},{"s":"telina","w":1260,"a":0.425},{"s":"telina","w":1239,"a":0.436},{"s":"telina","w":1215,"a":0.400},{"s":"telina","w":1200,"a":0.380},{"s":"telina","w":1192,"a":0.372},{"s":"telina","w":1170,"a":0.410},{"s":"telina","w":1148,"a":0.460},{"s":"telina","w":1128,"a":0.530},{"s":"telina","w":1110,"a":0.590},{"s":"telina","w":1090,"a":0.700},{"s":"telina","w":1070,"a":0.830},{"s":"telina","w":1050,"a":0.930},{"s":"telina","w":1035,"a":0.965},{"s":"telina","w":1020,"a":0.950},{"s":"telina","w":1005,"a":0.900},{"s":"telina","w":990,"a":0.810},{"s":"telina","w":975,"a":0.700},{"s":"telina","w":960,"a":0.600},{"s":"telina","w":945,"a":0.520},{"s":"telina","w":933,"a":0.454},{"s":"telina","w":915,"a":0.400},{"s":"telina","w":895,"a":0.370},{"s":"telina","w":875,"a":0.340},{"s":"telina","w":857,"a":0.325},{"s":"telina","w":837,"a":0.303},{"s":"telina","w":815,"a":0.300},{"s":"telina","w":790,"a":0.300},{"s":"telina","w":765,"a":0.300},{"s":"telina","w":743,"a":0.301},{"s":"telina","w":720,"a":0.310},{"s":"telina","w":700,"a":0.330},{"s":"telina","w":667,"a":0.357},{"s":"telina","w":640,"a":0.362},{"s":"telina","w":603,"a":0.367},{"s":"telina","w":578,"a":0.367},
{"s":"morcovi","w":4000,"a":0.047},{"s":"morcovi","w":3960,"a":0.060},{"s":"morcovi","w":3900,"a":0.080},{"s":"morcovi","w":3870,"a":0.090},{"s":"morcovi","w":3844,"a":0.096},{"s":"morcovi","w":3815,"a":0.085},{"s":"morcovi","w":3788,"a":0.066},{"s":"morcovi","w":3760,"a":0.100},{"s":"morcovi","w":3730,"a":0.142},{"s":"morcovi","w":3700,"a":0.110},{"s":"morcovi","w":3663,"a":0.080},{"s":"morcovi","w":3640,"a":0.100},{"s":"morcovi","w":3616,"a":0.125},{"s":"morcovi","w":3595,"a":0.132},{"s":"morcovi","w":3578,"a":0.132},{"s":"morcovi","w":3553,"a":0.145},{"s":"morcovi","w":3530,"a":0.180},{"s":"morcovi","w":3503,"a":0.229},{"s":"morcovi","w":3470,"a":0.300},{"s":"morcovi","w":3439,"a":0.370},{"s":"morcovi","w":3410,"a":0.420},{"s":"morcovi","w":3389,"a":0.448},{"s":"morcovi","w":3360,"a":0.490},{"s":"morcovi","w":3338,"a":0.512},{"s":"morcovi","w":3304,"a":0.527},{"s":"morcovi","w":3280,"a":0.518},{"s":"morcovi","w":3249,"a":0.493},{"s":"morcovi","w":3211,"a":0.455},{"s":"morcovi","w":3180,"a":0.410},{"s":"morcovi","w":3148,"a":0.370},{"s":"morcovi","w":3110,"a":0.330},{"s":"morcovi","w":3072,"a":0.293},{"s":"morcovi","w":3040,"a":0.260},{"s":"morcovi","w":3011,"a":0.232},{"s":"morcovi","w":2990,"a":0.260},{"s":"morcovi","w":2965,"a":0.305},{"s":"morcovi","w":2945,"a":0.338},{"s":"morcovi","w":2924,"a":0.345},{"s":"morcovi","w":2905,"a":0.330},{"s":"morcovi","w":2885,"a":0.305},{"s":"morcovi","w":2863,"a":0.280},{"s":"morcovi","w":2840,"a":0.250},{"s":"morcovi","w":2819,"a":0.222},{"s":"morcovi","w":2800,"a":0.205},{"s":"morcovi","w":2787,"a":0.196},{"s":"morcovi","w":2750,"a":0.185},{"s":"morcovi","w":2705,"a":0.177},{"s":"morcovi","w":2675,"a":0.170},{"s":"morcovi","w":2648,"a":0.161},{"s":"morcovi","w":2610,"a":0.140},{"s":"morcovi","w":2578,"a":0.125},{"s":"morcovi","w":2545,"a":0.115},{"s":"morcovi","w":2515,"a":0.106},{"s":"morcovi","w":2490,"a":0.100},{"s":"morcovi","w":2464,"a":0.093},{"s":"morcovi","w":2445,"a":0.099},{"s":"morcovi","w":2432,"a":0.090},{"s":"morcovi","w":2418,"a":0.070},{"s":"morcovi","w":2400,"a":0.150},{"s":"morcovi","w":2385,"a":0.350},{"s":"morcovi","w":2372,"a":0.550},{"s":"morcovi","w":2360,"a":0.680},{"s":"morcovi","w":2350,"a":0.700},{"s":"morcovi","w":2338,"a":0.680},{"s":"morcovi","w":2325,"a":0.550},{"s":"morcovi","w":2310,"a":0.350},{"s":"morcovi","w":2295,"a":0.180},{"s":"morcovi","w":2275,"a":0.110},{"s":"morcovi","w":2250,"a":0.090},{"s":"morcovi","w":2211,"a":0.074},{"s":"morcovi","w":2186,"a":0.068},{"s":"morcovi","w":2160,"a":0.045},{"s":"morcovi","w":2142,"a":0.022},{"s":"morcovi","w":2120,"a":0.040},{"s":"morcovi","w":2095,"a":0.055},{"s":"morcovi","w":2073,"a":0.058},{"s":"morcovi","w":2040,"a":0.048},{"s":"morcovi","w":2009,"a":0.038},{"s":"morcovi","w":1975,"a":0.028},{"s":"morcovi","w":1946,"a":0.019},{"s":"morcovi","w":1920,"a":0.024},{"s":"morcovi","w":1895,"a":0.029},{"s":"morcovi","w":1860,"a":0.031},{"s":"morcovi","w":1831,"a":0.032},{"s":"morcovi","w":1810,"a":0.038},{"s":"morcovi","w":1794,"a":0.048},{"s":"morcovi","w":1775,"a":0.080},{"s":"morcovi","w":1754,"a":0.119},{"s":"morcovi","w":1735,"a":0.200},{"s":"morcovi","w":1715,"a":0.280},{"s":"morcovi","w":1690,"a":0.370},{"s":"morcovi","w":1665,"a":0.460},{"s":"morcovi","w":1645,"a":0.530},{"s":"morcovi","w":1629,"a":0.570},{"s":"morcovi","w":1616,"a":0.593},{"s":"morcovi","w":1603,"a":0.580},{"s":"morcovi","w":1591,"a":0.538},{"s":"morcovi","w":1580,"a":0.470},{"s":"morcovi","w":1570,"a":0.420},{"s":"morcovi","w":1560,"a":0.398},{"s":"morcovi","w":1545,"a":0.396},{"s":"morcovi","w":1528,"a":0.396},{"s":"morcovi","w":1512,"a":0.370},{"s":"morcovi","w":1495,"a":0.330},{"s":"morcovi","w":1477,"a":0.306},{"s":"morcovi","w":1460,"a":0.350},{"s":"morcovi","w":1439,"a":0.390},{"s":"morcovi","w":1415,"a":0.420},{"s":"morcovi","w":1394,"a":0.434},{"s":"morcovi","w":1370,"a":0.420},{"s":"morcovi","w":1337,"a":0.390},{"s":"morcovi","w":1305,"a":0.370},{"s":"morcovi","w":1277,"a":0.354},{"s":"morcovi","w":1255,"a":0.368},{"s":"morcovi","w":1239,"a":0.377},{"s":"morcovi","w":1215,"a":0.350},{"s":"morcovi","w":1200,"a":0.335},{"s":"morcovi","w":1190,"a":0.330},{"s":"morcovi","w":1170,"a":0.355},{"s":"morcovi","w":1148,"a":0.390},{"s":"morcovi","w":1130,"a":0.430},{"s":"morcovi","w":1110,"a":0.486},{"s":"morcovi","w":1090,"a":0.570},{"s":"morcovi","w":1072,"a":0.654},{"s":"morcovi","w":1055,"a":0.740},{"s":"morcovi","w":1040,"a":0.785},{"s":"morcovi","w":1031,"a":0.794},{"s":"morcovi","w":1015,"a":0.785},{"s":"morcovi","w":996,"a":0.744},{"s":"morcovi","w":985,"a":0.680},{"s":"morcovi","w":971,"a":0.590},{"s":"morcovi","w":958,"a":0.486},{"s":"morcovi","w":940,"a":0.410},{"s":"morcovi","w":920,"a":0.357},{"s":"morcovi","w":900,"a":0.315},{"s":"morcovi","w":882,"a":0.287},{"s":"morcovi","w":860,"a":0.262},{"s":"morcovi","w":844,"a":0.248},{"s":"morcovi","w":825,"a":0.236},{"s":"morcovi","w":810,"a":0.242},{"s":"morcovi","w":781,"a":0.254},{"s":"morcovi","w":755,"a":0.251},{"s":"morcovi","w":730,"a":0.248},{"s":"morcovi","w":705,"a":0.270},{"s":"morcovi","w":685,"a":0.300},{"s":"morcovi","w":667,"a":0.312},{"s":"morcovi","w":640,"a":0.316},{"s":"morcovi","w":603,"a":0.320},{"s":"morcovi","w":578,"a":0.322},
{"s":"pastarnac","w":4000,"a":0.290},{"s":"pastarnac","w":3960,"a":0.295},{"s":"pastarnac","w":3900,"a":0.305},{"s":"pastarnac","w":3857,"a":0.316},{"s":"pastarnac","w":3820,"a":0.305},{"s":"pastarnac","w":3788,"a":0.287},{"s":"pastarnac","w":3760,"a":0.315},{"s":"pastarnac","w":3730,"a":0.341},{"s":"pastarnac","w":3700,"a":0.315},{"s":"pastarnac","w":3663,"a":0.285},{"s":"pastarnac","w":3640,"a":0.300},{"s":"pastarnac","w":3616,"a":0.312},{"s":"pastarnac","w":3590,"a":0.322},{"s":"pastarnac","w":3572,"a":0.332},{"s":"pastarnac","w":3550,"a":0.360},{"s":"pastarnac","w":3534,"a":0.396},{"s":"pastarnac","w":3510,"a":0.480},{"s":"pastarnac","w":3475,"a":0.560},{"s":"pastarnac","w":3439,"a":0.628},{"s":"pastarnac","w":3410,"a":0.670},{"s":"pastarnac","w":3376,"a":0.699},{"s":"pastarnac","w":3350,"a":0.715},{"s":"pastarnac","w":3325,"a":0.721},{"s":"pastarnac","w":3300,"a":0.715},{"s":"pastarnac","w":3262,"a":0.680},{"s":"pastarnac","w":3230,"a":0.650},{"s":"pastarnac","w":3199,"a":0.615},{"s":"pastarnac","w":3165,"a":0.580},{"s":"pastarnac","w":3135,"a":0.551},{"s":"pastarnac","w":3100,"a":0.510},{"s":"pastarnac","w":3085,"a":0.495},{"s":"pastarnac","w":3059,"a":0.470},{"s":"pastarnac","w":3035,"a":0.445},{"s":"pastarnac","w":3013,"a":0.428},{"s":"pastarnac","w":2990,"a":0.460},{"s":"pastarnac","w":2965,"a":0.520},{"s":"pastarnac","w":2945,"a":0.575},{"s":"pastarnac","w":2924,"a":0.606},{"s":"pastarnac","w":2905,"a":0.585},{"s":"pastarnac","w":2885,"a":0.555},{"s":"pastarnac","w":2863,"a":0.519},{"s":"pastarnac","w":2840,"a":0.470},{"s":"pastarnac","w":2819,"a":0.428},{"s":"pastarnac","w":2800,"a":0.400},{"s":"pastarnac","w":2787,"a":0.383},{"s":"pastarnac","w":2750,"a":0.362},{"s":"pastarnac","w":2705,"a":0.345},{"s":"pastarnac","w":2670,"a":0.337},{"s":"pastarnac","w":2648,"a":0.332},{"s":"pastarnac","w":2610,"a":0.315},{"s":"pastarnac","w":2578,"a":0.296},{"s":"pastarnac","w":2545,"a":0.280},{"s":"pastarnac","w":2515,"a":0.264},{"s":"pastarnac","w":2480,"a":0.255},{"s":"pastarnac","w":2452,"a":0.243},{"s":"pastarnac","w":2432,"a":0.238},{"s":"pastarnac","w":2414,"a":0.216},{"s":"pastarnac","w":2400,"a":0.300},{"s":"pastarnac","w":2385,"a":0.450},{"s":"pastarnac","w":2372,"a":0.600},{"s":"pastarnac","w":2360,"a":0.700},{"s":"pastarnac","w":2350,"a":0.720},{"s":"pastarnac","w":2338,"a":0.690},{"s":"pastarnac","w":2325,"a":0.550},{"s":"pastarnac","w":2310,"a":0.370},{"s":"pastarnac","w":2295,"a":0.250},{"s":"pastarnac","w":2275,"a":0.207},{"s":"pastarnac","w":2250,"a":0.195},{"s":"pastarnac","w":2211,"a":0.183},{"s":"pastarnac","w":2185,"a":0.170},{"s":"pastarnac","w":2160,"a":0.145},{"s":"pastarnac","w":2135,"a":0.125},{"s":"pastarnac","w":2110,"a":0.142},{"s":"pastarnac","w":2085,"a":0.155},{"s":"pastarnac","w":2050,"a":0.145},{"s":"pastarnac","w":2009,"a":0.129},{"s":"pastarnac","w":1975,"a":0.120},{"s":"pastarnac","w":1946,"a":0.114},{"s":"pastarnac","w":1920,"a":0.117},{"s":"pastarnac","w":1895,"a":0.120},{"s":"pastarnac","w":1860,"a":0.117},{"s":"pastarnac","w":1831,"a":0.116},{"s":"pastarnac","w":1806,"a":0.125},{"s":"pastarnac","w":1790,"a":0.170},{"s":"pastarnac","w":1768,"a":0.240},{"s":"pastarnac","w":1749,"a":0.351},{"s":"pastarnac","w":1735,"a":0.430},{"s":"pastarnac","w":1720,"a":0.480},{"s":"pastarnac","w":1705,"a":0.512},{"s":"pastarnac","w":1686,"a":0.519},{"s":"pastarnac","w":1670,"a":0.560},{"s":"pastarnac","w":1655,"a":0.610},{"s":"pastarnac","w":1640,"a":0.665},{"s":"pastarnac","w":1625,"a":0.705},{"s":"pastarnac","w":1606,"a":0.720},{"s":"pastarnac","w":1595,"a":0.690},{"s":"pastarnac","w":1580,"a":0.630},{"s":"pastarnac","w":1566,"a":0.590},{"s":"pastarnac","w":1553,"a":0.519},{"s":"pastarnac","w":1535,"a":0.485},{"s":"pastarnac","w":1515,"a":0.454},{"s":"pastarnac","w":1495,"a":0.425},{"s":"pastarnac","w":1479,"a":0.408},{"s":"pastarnac","w":1465,"a":0.460},{"s":"pastarnac","w":1450,"a":0.505},{"s":"pastarnac","w":1439,"a":0.532},{"s":"pastarnac","w":1415,"a":0.560},{"s":"pastarnac","w":1389,"a":0.573},{"s":"pastarnac","w":1365,"a":0.562},{"s":"pastarnac","w":1337,"a":0.545},{"s":"pastarnac","w":1310,"a":0.515},{"s":"pastarnac","w":1287,"a":0.504},{"s":"pastarnac","w":1260,"a":0.525},{"s":"pastarnac","w":1236,"a":0.543},{"s":"pastarnac","w":1215,"a":0.525},{"s":"pastarnac","w":1200,"a":0.510},{"s":"pastarnac","w":1192,"a":0.509},{"s":"pastarnac","w":1170,"a":0.540},{"s":"pastarnac","w":1148,"a":0.583},{"s":"pastarnac","w":1128,"a":0.660},{"s":"pastarnac","w":1110,"a":0.719},{"s":"pastarnac","w":1085,"a":0.830},{"s":"pastarnac","w":1059,"a":0.912},{"s":"pastarnac","w":1040,"a":0.955},{"s":"pastarnac","w":1024,"a":0.973},{"s":"pastarnac","w":1010,"a":0.960},{"s":"pastarnac","w":990,"a":0.925},{"s":"pastarnac","w":975,"a":0.850},{"s":"pastarnac","w":958,"a":0.751},{"s":"pastarnac","w":945,"a":0.650},{"s":"pastarnac","w":933,"a":0.557},{"s":"pastarnac","w":920,"a":0.480},{"s":"pastarnac","w":907,"a":0.422},{"s":"pastarnac","w":890,"a":0.380},{"s":"pastarnac","w":869,"a":0.345},{"s":"pastarnac","w":850,"a":0.320},{"s":"pastarnac","w":838,"a":0.306},{"s":"pastarnac","w":813,"a":0.303},{"s":"pastarnac","w":790,"a":0.308},{"s":"pastarnac","w":768,"a":0.309},{"s":"pastarnac","w":745,"a":0.303},{"s":"pastarnac","w":724,"a":0.298},{"s":"pastarnac","w":700,"a":0.318},{"s":"pastarnac","w":667,"a":0.338},{"s":"pastarnac","w":630,"a":0.345},{"s":"pastarnac","w":603,"a":0.348},{"s":"pastarnac","w":578,"a":0.349}
]},
"resolve":{"axis":{"x":"independent","y":"independent"}},
"layer":[
{"data":{"name":"dividers"},
 "mark":{"type":"rule","color":"#222","strokeWidth":1,"strokeDash":[6,2,1,2]},
 "encoding":{
  "x":{"field":"wn","type":"quantitative","scale":{"domain":[575,4000],"reverse":true,"nice":false,"zero":false},
   "axis":{"orient":"top","labels":false,"domain":false,"title":null,"values":[4000,3750,3500,3250,3000,2750,2500,2250,2000,1750,1500,1250,1000,750],"tickSize":4,"tickColor":"#444","encode":{"ticks":{"update":{"y2":{"signal":"datum.value%500==0 ? -4 : -2"}}}}}},
  "y":{"datum":0.925,"type":"quantitative","scale":{"domain":[-0.2,1.1],"nice":false,"zero":false},"axis":null},
  "y2":{"datum":-0.167}}},
{"data":{"name":"arrows"},
 "mark":{"type":"rule","color":"#000","strokeWidth":1},
 "encoding":{
  "x":{"field":"from","type":"quantitative","axis":null},
  "x2":{"field":"to"},
  "y":{"datum":-0.128,"type":"quantitative","axis":null}}},
{"data":{"name":"arrows"},
 "mark":{"type":"point","filled":true,"color":"#000","opacity":1,"size":289,"strokeWidth":0,"shape":"M0,0L2,-0.42L2,0.42Z"},
 "encoding":{
  "x":{"field":"from","type":"quantitative","axis":null},
  "y":{"datum":-0.128,"type":"quantitative","axis":null}}},
{"data":{"name":"arrows"},
 "mark":{"type":"point","filled":true,"color":"#000","opacity":1,"size":289,"strokeWidth":0,"shape":"M0,0L-2,-0.42L-2,0.42Z"},
 "encoding":{
  "x":{"field":"to","type":"quantitative","axis":null},
  "y":{"datum":-0.128,"type":"quantitative","axis":null}}},
{"data":{"name":"letters"},
 "mark":{"type":"text","font":"Open Sans","fontSize":22,"color":"#000","align":"center","baseline":"alphabetic"},
 "encoding":{
  "x":{"field":"wn","type":"quantitative","axis":null},
  "y":{"datum":0.003,"type":"quantitative","axis":null},
  "text":{"field":"lab"}}},
{"data":{"name":"spectra"},
 "mark":{"type":"line","strokeWidth":2.5,"interpolate":"monotone"},
 "encoding":{
  "x":{"field":"w","type":"quantitative",
   "axis":{"orient":"bottom","values":[4000,3750,3500,3250,3000,2750,2500,2250,2000,1750,1500,1250,1000,750],"labelExpr":"datum.value%500==0 ? format(datum.value,'d') : ''","labelFlush":false,"labelOverlap":false,"labelFontSize":27,"labelPadding":4,"tickSize":13,"domainWidth":1,"encode":{"ticks":{"update":{"y2":{"signal":"datum.value%500==0 ? 13 : 7"}}}},
    "title":"numãr undã cm⁻¹","titleFontSize":38,"titleX":469,"titleY":92,"titleAlign":"center","titleBaseline":"alphabetic"}},
  "y":{"field":"a","type":"quantitative",
   "axis":{"orient":"left","values":[-0.2,-0.1,0,0.1,0.2,0.3,0.4,0.5,0.6,0.7,0.8,0.9,1.0],"labelExpr":"round(datum.value*10)%2==0 ? replace(replace(format(datum.value,'.1f'),'.',','),'−','-') : ''","labelFlush":false,"labelOverlap":false,"labelFontSize":27,"labelPadding":10,"tickSize":13,"domainWidth":1,"encode":{"ticks":{"update":{"x2":{"signal":"round(datum.value*10)%2==0 ? -13 : -7"}}}},
    "title":"Absorbanta","titleFontSize":35,"titleX":-117,"titleY":333,"titleAngle":270,"titleAlign":"center","titleBaseline":"alphabetic"}},
  "order":{"field":"w","sort":"descending"},
  "color":{"field":"s","type":"nominal",
   "scale":{"domain":["cartofi","ceapa","rosii","castraveti","rad. de patrunjel","telina","morcovi","pastarnac"],"range":["#000000","#ff0000","#00ff00","#0000ff","#00ffff","#ff00ff","#ffff00","#ff8000"]},
   "legend":{"orient":"none","legendX":338,"legendY":8,"title":null,"symbolType":"M-1.69,0H1.69","symbolSize":841,"symbolStrokeWidth":3,"labelFont":"Liberation Serif","labelFontSize":21,"labelColor":"#000","padding":12,"symbolOffset":19.5,"labelOffset":12.5,"rowPadding":0,"strokeColor":"#000","fillColor":"#ffffff","cornerRadius":0}}}}
]
}
